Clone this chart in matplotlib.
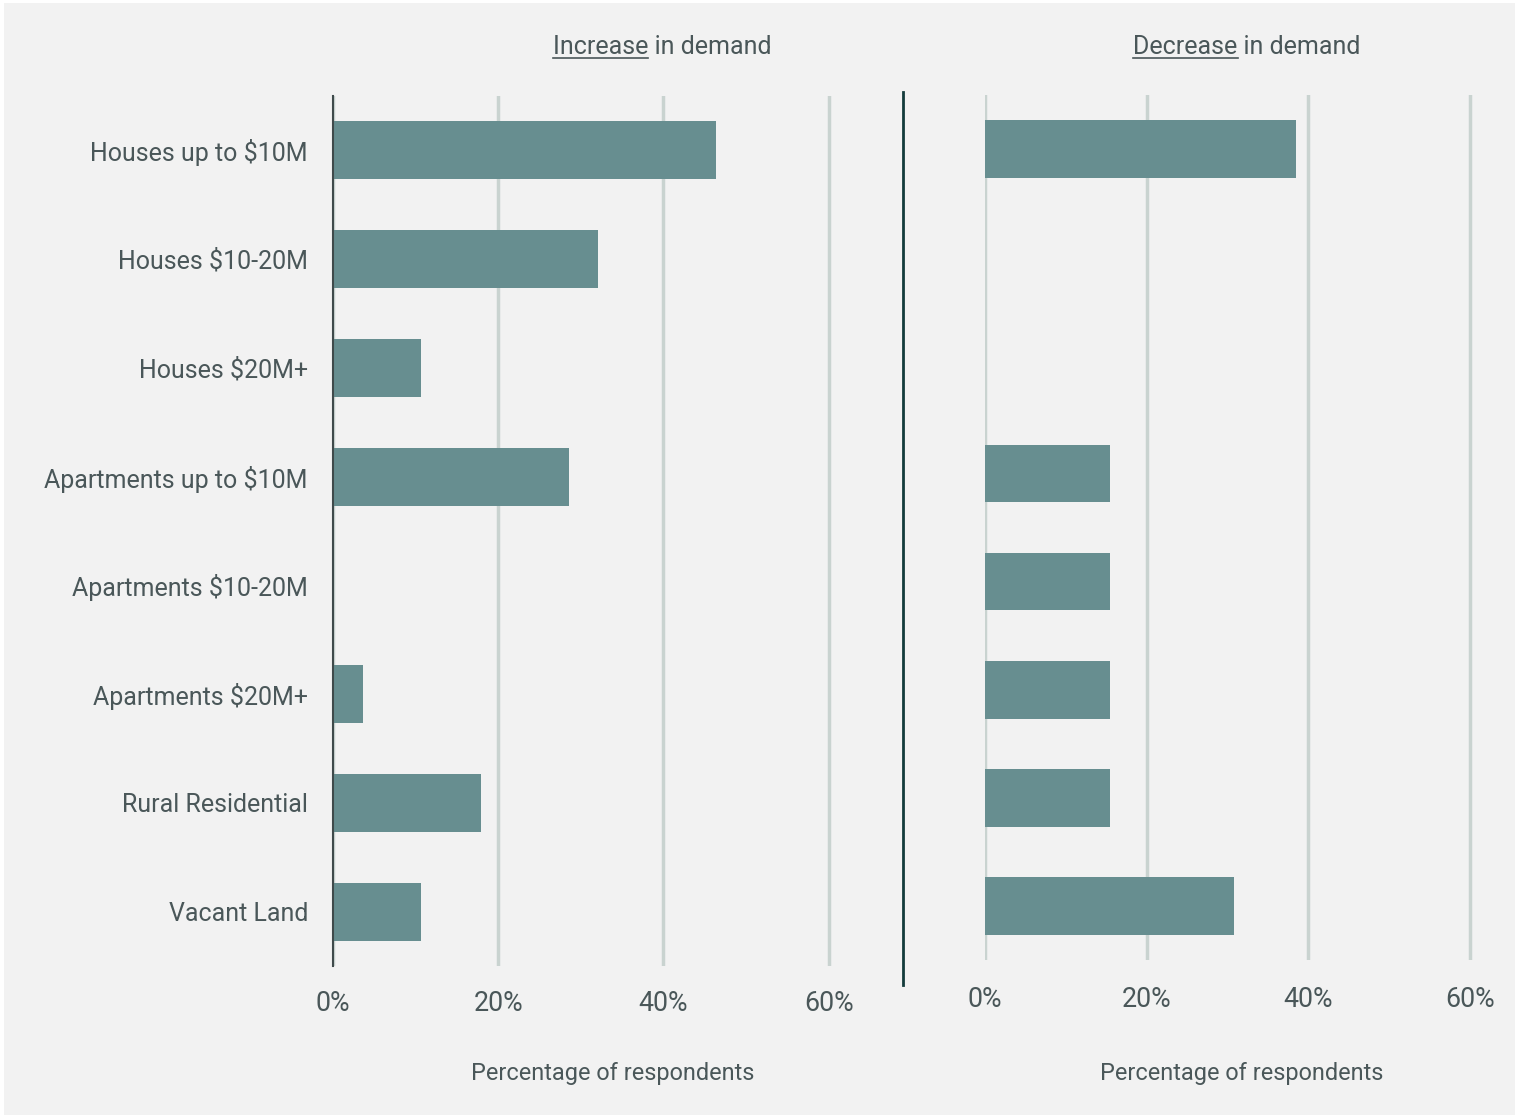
import numpy as np
import matplotlib
matplotlib.use("Agg")
import matplotlib.pyplot as plt
from matplotlib.patches import Rectangle
from matplotlib.lines import Line2D

categories = ["Houses up to $10M", "Houses $10-20M", "Houses $20M+",
              "Apartments up to $10M", "Apartments $10-20M", "Apartments $20M+",
              "Rural Residential", "Vacant Land"]
increase = [46.4, 32.1, 10.7, 28.6, 0, 3.6, 17.9, 10.7]
decrease = [38.5, 0, 0, 15.4, 15.4, 15.4, 15.4, 30.8]
ticks = [0, 20, 40, 60]
tick_labels = ["0%", "20%", "40%", "60%"]

BG = "#f2f2f2"
BAR = "#678e90"
GRID = "#c9d3d0"
TXT = "#4a5759"

plt.rcParams['font.family'] = ['Roboto', 'DejaVu Sans']

fig = plt.figure(figsize=(15.19, 11.18), dpi=100, facecolor="white")
fig.patches.append(Rectangle((4 / 1519, 3 / 1118), 1511 / 1519, 1112 / 1118,
                             transform=fig.transFigure, facecolor=BG,
                             edgecolor="none", zorder=-10))

ax1 = fig.add_axes([333 / 1519, 1 - 966 / 1118, 537 / 1519, 870 / 1118])
ax2 = fig.add_axes([985 / 1519, 1 - 960 / 1118, 515 / 1519, 865 / 1118])

y = np.arange(len(categories))

for ax, vals, xmax, tpad in [(ax1, increase, 65.0, 17),
                             (ax2, decrease, 63.7, 19)]:
    ax.set_facecolor("none")
    ax.barh(y, vals, height=0.535, color=BAR, zorder=3)
    ax.set_xlim(0, xmax)
    ax.set_ylim(len(categories) - 0.5, -0.5)
    ax.set_xticks(ticks)
    ax.set_xticklabels(tick_labels)
    for t in ticks:
        ax.axvline(t, color=GRID, lw=2.5, zorder=1)
    for s in ax.spines.values():
        s.set_visible(False)
    ax.tick_params(axis="x", length=0, pad=tpad, labelsize=19.3, labelcolor=TXT)
    ax.set_xlabel("Percentage of respondents", fontsize=16.9, color=TXT)

ax1.set_yticks(y)
ax1.set_yticklabels(categories)
ax1.tick_params(axis="y", length=0, pad=18, labelsize=18, labelcolor=TXT)
ax1.spines["left"].set_visible(True)
ax1.spines["left"].set_color("#3f4a4b")
ax1.spines["left"].set_linewidth(1.5)
ax1.spines["left"].set_zorder(4)
ax1.xaxis.set_label_coords(280 / 537, -96 / 870)
ax2.set_yticks([])
ax2.xaxis.set_label_coords(257 / 515, -102 / 865)

# titles with underlined first word
for cx, word in [(662, "Increase"), (1247, "Decrease")]:
    t = fig.text(cx / 1519, 1 - 47 / 1118, word + " in demand", fontsize=18,
                 color=TXT, ha="center", va="center")
    fig.canvas.draw()
    bb = t.get_window_extent()
    w_only = fig.text(0, 0, word, fontsize=18)
    fig.canvas.draw()
    ww = w_only.get_window_extent().width
    w_only.remove()
    fig.lines.append(Line2D([bb.x0 / 1519, (bb.x0 + ww) / 1519],
                            [1 - 58 / 1118, 1 - 58 / 1118],
                            transform=fig.transFigure, color=TXT, lw=1.2))

# separator
fig.lines.append(Line2D([903 / 1519, 903 / 1519], [1 - 92 / 1118, 1 - 985 / 1118],
                        transform=fig.transFigure, color="#143c3c", lw=2))

fig.savefig("out.png", dpi=100, facecolor=fig.get_facecolor())
